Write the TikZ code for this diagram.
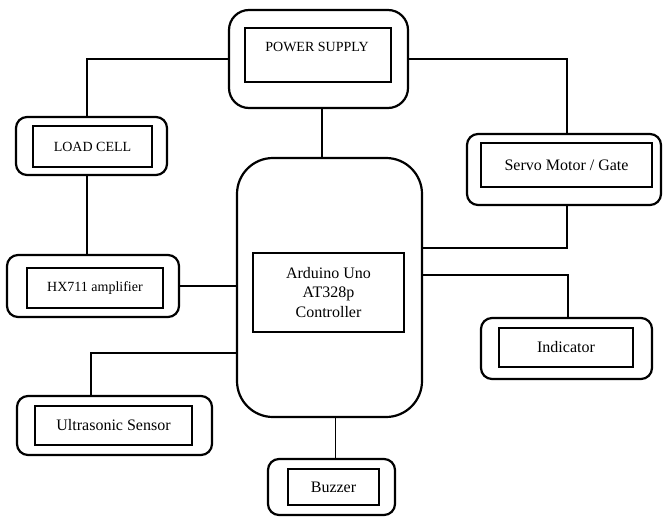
\documentclass[tikz,border=0pt]{standalone}
\usepackage{fontspec}
\setmainfont{Liberation Serif}
\begin{document}
\begin{tikzpicture}[x=1pt, y=-1pt,
    outerbox/.style={draw, line width=2.2pt, rounded corners=11pt},
    innerbox/.style={draw, line width=1.8pt, align=center, inner sep=0pt,
        font=\fontsize{16}{19.5}\selectfont},
    wire/.style={line width=1.5pt}]
        \useasboundingbox (0,0) rectangle (663,516);

        % Khung ngoai
        \node[outerbox, rounded corners=20pt, minimum width=179pt, minimum height=98pt] (psu) at (318.5,59) {};
        \node[outerbox, minimum width=151pt, minimum height=58pt] (load) at (91.5,146) {};
        \node[outerbox, minimum width=172pt, minimum height=62pt] (hx) at (93,286) {};
        \node[outerbox, rounded corners=36pt, minimum width=185pt, minimum height=259pt] (ctrl) at (329.5,287.5) {};
        \node[outerbox, minimum width=194pt, minimum height=71pt] (servo) at (564,169.5) {};
        \node[outerbox, minimum width=171pt, minimum height=61pt] (ind) at (566.5,348.5) {};
        \node[outerbox, minimum width=195pt, minimum height=59pt] (ultra) at (114.5,425.5) {};
        \node[outerbox, minimum width=127pt, minimum height=56pt] (buzz) at (331.5,487) {};

        % Khung trong
        \node[innerbox, minimum width=146pt, minimum height=54pt] (psuin) at (318,55) {};
        \node[font=\fontsize{14}{17}\selectfont] (psutxt) at (317,47) {POWER SUPPLY};
        \node[innerbox, font=\fontsize{14}{17}\selectfont, minimum width=119pt, minimum height=41pt] (loadin) at (92.5,146.5) {LOAD CELL};
        \node[innerbox, font=\fontsize{14}{17}\selectfont, minimum width=136pt, minimum height=40pt] (hxin) at (95,288) {HX711 amplifier};
        \node[innerbox, minimum width=151pt, minimum height=79pt] (ctrlin) at (328.5,292.5) {Arduino Uno\\AT328p\\Controller};
        \node[innerbox, minimum width=171pt, minimum height=44pt] (servoin) at (566.5,165) {Servo Motor / Gate};
        \node[innerbox, minimum width=134pt, minimum height=39pt] (indin) at (566,347.5) {Indicator};
        \node[innerbox, minimum width=157pt, minimum height=39pt] (ultrain) at (113.5,425.5) {Ultrasonic Sensor};
        \node[innerbox, minimum width=91pt, minimum height=36pt] (buzzin) at (333.5,487) {Buzzer};

        % Day noi
        \draw[wire] ([xshift=-4.5pt]load.north) |- (psu.west);
        \draw[wire] ([xshift=-4.5pt]load.south) -- ([xshift=-4.5pt]load.south |- hx.north);
        \draw[wire] (hx.east) -- (hx.east -| ctrl.west);
        \draw[wire] ([xshift=3.5pt]psu.south) -- ([xshift=3.5pt]psu.south |- ctrl.north);
        \draw[wire] ([xshift=3pt]servo.north) |- (psu.east);
        \draw[wire] ([xshift=3pt]servo.south) |- ([yshift=39.5pt]ctrl.east);
        \draw[wire] ([yshift=12.5pt]ctrl.east) -| ([xshift=1.5pt]ind.north);
        \draw[wire] ([yshift=-65.5pt]ctrl.west) -| ([xshift=-23.5pt]ultra.north);
        \draw[wire] ([xshift=6pt]ctrl.south) -- ([xshift=6pt]ctrl.south |- buzz.north);

    \end{tikzpicture}
\end{document}
